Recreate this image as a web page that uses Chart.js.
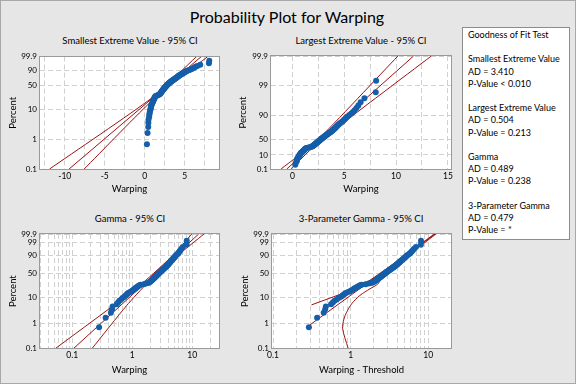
<!DOCTYPE html>
<html lang="en">
<head>
<meta charset="UTF-8">
<title>Probability Plot for Warping</title>
<script src="https://cdn.jsdelivr.net/npm/chart.js"></script>
<style>
  body { margin: 0; background: #fff; }
  #page { position: relative; width: 576px; height: 384px; background: #e6e6e6; overflow: hidden;
          font-family: Lato, "Noto Sans", sans-serif; color: #000; }
  #frame { position: absolute; left: 0; top: 0; width: 576px; height: 384px; box-sizing: border-box;
           border: 1px solid #a8a8a8; pointer-events: none; }
  #title { position: absolute; left: 0; top: 6px; width: 574px; text-align: center; font-size: 16px; line-height: 22px; }
  .ptitle { position: absolute; width: 200px; margin-left: -100px; text-align: center; font-size: 9.5px; line-height: 12px; }
  canvas { position: absolute; }
  #gof { position: absolute; left: 462px; top: 27px; width: 108px; height: 213px; box-sizing: border-box;
         background: #fff; border: 1px solid #8c8c8c; padding: 1px 0 0 5px; font-size: 9px; line-height: 12.2px; white-space: nowrap; }
</style>
</head>
<body>
<div id="page">
  <div id="title">Probability Plot for Warping</div>
  <div id="gof"></div>
  <div id="frame"></div>
</div>

<script>
    // Warping, sorted
    const warping = [
        0.28, 0.36, 0.44, 0.46, 0.47, 0.55, 0.58, 0.61, 0.65, 0.69,
        0.73, 0.77, 0.80, 0.83, 0.86, 0.92, 0.97, 1.01, 1.05, 1.09,
        1.12, 1.16, 1.20, 1.24, 1.28, 1.33, 1.37, 1.55, 1.70, 1.82,
        1.91, 1.96, 2.01, 2.05, 2.09, 2.13, 2.17, 2.21, 2.25, 2.29,
        2.33, 2.37, 2.41, 2.45, 2.49, 2.53, 2.57, 2.61, 2.65, 2.70,
        2.74, 2.78, 2.82, 2.87, 2.91, 2.96, 3.01, 3.06, 3.11, 3.16,
        3.21, 3.27, 3.33, 3.39, 3.45, 3.51, 3.57, 3.63, 3.69, 3.75,
        3.81, 3.87, 3.93, 3.99, 4.05, 4.11, 4.17, 4.23, 4.29, 4.35,
        4.43, 4.51, 4.60, 4.70, 4.80, 4.90, 5.00, 5.10, 5.21, 5.32,
        5.50, 5.68, 5.84, 6.00, 6.18, 6.36, 6.58, 6.95, 8.04, 8.08
    ];
    const threshold = -0.01;   // 3-parameter gamma threshold
    const gammaShape = 3.5;    // shape used for the gamma percent scale

    // fitted lines and 95% CI, as [percent, x]
    const sevFit   = [[0.1, -9.46], [99.9, 7.1]];
    const sevLeft  = [[0.1, -11.9], [23, 0.85], [99.9, 6.5]];
    const sevRight = [[0.1, -7.57], [23, 1.25], [99.9, 7.9]];

    const levFit   = [[0.1, -0.54], [99.9, 11.69]];
    const levLeft  = [[0.1, -1.09], [46.6, 2.35], [99.9, 10.18]];
    const levRight = [[0.1, -0.15], [46.6, 2.68], [99.9, 13.4]];

    const gamFit   = [[0.1, 0.106], [99.9, 12.8]];
    const gamLeft  = [[0.1, 0.053], [5, 0.48], [30, 1.50], [90, 4.8], [99.9, 9.8]];
    const gamRight = [[0.1, 0.215], [5, 0.80], [30, 1.80], [90, 5.8], [99.9, 15.7]];

    const g3Fit    = [[0.87, 0.30], [99.9, 12.3]];
    const g3Left   = [[5.4, 0.313], [16, 0.89], [30, 1.58], [99.9, 12.0]];
    const g3Right  = [[0.1, 0.93], [0.6, 0.79], [1.5, 0.82], [2.8, 0.89], [5.9, 1.03], [12, 1.32],
                      [20, 1.78], [28, 2.25], [50, 2.75], [99.9, 12.6]];

    // tick labels
    const sevPctTicks = [0.1, 1, 10, 50, 90, 99.9];
    const levPctTicks = [0.1, 10, 50, 90, 99, 99.9];
    const gamPctTicks = [0.1, 1, 10, 50, 90, 99, 99.9];
    const sevXLabels = [-10, -5, 0, 5];
    const levXLabels = [0, 5, 10, 15];
    const logXLabels = [0.1, 1, 10];

    // goodness of fit box
    const gofNames = ['Smallest Extreme Value', 'Largest Extreme Value', 'Gamma', '3-Parameter Gamma'];
    const gofAD = ['3.410', '0.504', '0.489', '0.479'];
    const gofP = ['< 0.010', '= 0.213', '= 0.238', '= *'];

    const FONT = 'Lato, "Noto Sans", sans-serif';
    const BLUE = '#155ea9';
    const RED = '#9b1212';
    const GRID = '#d0d0d0';
    Chart.defaults.font.family = FONT;
    Chart.defaults.color = '#000';

    let html = '<div>Goodness of Fit Test</div><div>&nbsp;</div>';
    gofNames.forEach((n, i) => {
        html += `<div>${n}</div><div>AD = ${gofAD[i]}</div><div>P-Value ${gofP[i]}</div>`;
        if (i < gofNames.length - 1) html += '<div>&nbsp;</div>';
    });
    document.getElementById('gof').innerHTML = html;

    // median rank plotting positions
    const N = warping.length;
    const percents = warping.map((v, i) => (i + 1 - 0.3) / (N + 0.4) * 100);

    function normInv(p) {
        const a = [-3.969683028665376e+01, 2.209460984245205e+02, -2.759285104469687e+02, 1.383577518672690e+02, -3.066479806614716e+01, 2.506628277459239e+00];
        const b = [-5.447609879822406e+01, 1.615858368580409e+02, -1.556989798598866e+02, 6.680131188771972e+01, -1.328068155288572e+01];
        const c = [-7.784894002430293e-03, -3.223964580411365e-01, -2.400758277161838e+00, -2.549671661902052e+00, 4.374664141464968e+00, 2.938163982698783e+00];
        const d = [7.784695709041462e-03, 3.224671290700398e-01, 2.445134137142996e+00, 3.754408661907416e+00];
        const pl = 0.02425;
        let q, r;
        if (p < pl) {
            q = Math.sqrt(-2 * Math.log(p));
            return (((((c[0]*q+c[1])*q+c[2])*q+c[3])*q+c[4])*q+c[5]) / ((((d[0]*q+d[1])*q+d[2])*q+d[3])*q+1);
        }
        if (p > 1 - pl) {
            q = Math.sqrt(-2 * Math.log(1 - p));
            return -(((((c[0]*q+c[1])*q+c[2])*q+c[3])*q+c[4])*q+c[5]) / ((((d[0]*q+d[1])*q+d[2])*q+d[3])*q+1);
        }
        q = p - 0.5; r = q * q;
        return (((((a[0]*r+a[1])*r+a[2])*r+a[3])*r+a[4])*r+a[5])*q / (((((b[0]*r+b[1])*r+b[2])*r+b[3])*r+b[4])*r+1);
    }

    // percent -> probability scale position
    const transforms = {
        sev: p => Math.log(-Math.log(1 - p / 100)),
        lev: p => -Math.log(-Math.log(p / 100)),
        gamma: p => 3 * Math.log(1 - 1 / (9 * gammaShape) + normInv(p / 100) / (3 * Math.sqrt(gammaShape)))
    };

    function logGrid(lo, hi) {
        const out = [];
        for (let e = -2; e <= 2; e++) {
            for (let m = 1; m <= 9; m++) {
                const v = +(m * Math.pow(10, e)).toPrecision(3);
                if (v >= lo && v <= hi) out.push(v);
            }
        }
        return out;
    }

    const framePlugin = {
        id: 'frame',
        beforeDraw(chart) {
            const {ctx, chartArea: a} = chart;
            ctx.save();
            ctx.fillStyle = '#fff';
            ctx.fillRect(a.left, a.top, a.right - a.left, a.bottom - a.top);
            ctx.restore();
        },
        afterDraw(chart) {
            const {ctx, chartArea: a} = chart;
            const l = Math.round(a.left), t = Math.round(a.top), r = Math.round(a.right), b = Math.round(a.bottom);
            ctx.save();
            ctx.strokeStyle = '#9a9a9a';
            ctx.lineWidth = 1;
            ctx.strokeRect(l - 0.5, t - 0.5, r - l + 1, b - t + 1);
            ctx.restore();
        }
    };

    const page = document.getElementById('page');
    const gofBox = document.getElementById('gof');

    function makePanel(o) {
        const t = document.createElement('div');
        t.className = 'ptitle';
        t.textContent = o.title;
        t.style.left = o.titleAt[0] + 'px';
        t.style.top = (o.titleAt[1] - 6) + 'px';
        page.insertBefore(t, gofBox);

        const cv = document.createElement('canvas');
        cv.width = o.box[2];
        cv.height = o.box[3];
        cv.style.left = o.box[0] + 'px';
        cv.style.top = o.box[1] + 'px';
        page.insertBefore(cv, gofBox);
        const T = transforms[o.kind];
        const toXY = pairs => pairs.map(([p, x]) => ({x: x, y: T(p)}));
        const line = (pairs, tension) => ({
            data: toXY(pairs), showLine: true, borderColor: RED, borderWidth: 1,
            pointRadius: 0, pointHoverRadius: 0, fill: false, tension: tension
        });

        new Chart(cv, {
            type: 'scatter',
            data: {
                datasets: [
                    {data: o.xs.map((x, i) => ({x: x, y: T(percents[i])})), backgroundColor: BLUE,
                     borderWidth: 0, pointRadius: 3, pointHoverRadius: 3},
                    line(o.fit, 0), line(o.left, o.tension), line(o.right, o.tension)
                ]
            },
            options: {
                responsive: false, animation: false, devicePixelRatio: 1,
                layout: {padding: {left: 0, right: o.padRight, top: o.padTop, bottom: 0}},
                plugins: {legend: {display: false}, tooltip: {enabled: false}},
                scales: {
                    x: {
                        type: o.logX ? 'logarithmic' : 'linear', min: o.xMin, max: o.xMax,
                        afterBuildTicks: s => { s.ticks = o.xGrid.map(v => ({value: v})); },
                        afterFit: s => { s.height = o.xAxisH; },
                        ticks: {autoSkip: false, maxRotation: 0, padding: 2, font: {size: 8.5},
                                callback: v => o.xLabels.includes(v) ? String(v) : ''},
                        grid: {color: GRID, drawTicks: false},
                        border: {display: false, dash: [5, 3]},
                        title: {display: true, text: o.xTitle, font: {size: 9.5, lineHeight: 1.2},
                                padding: {top: 0, bottom: o.xTitleBottom}}
                    },
                    y: {
                        type: 'linear', min: T(0.1), max: T(99.9),
                        afterBuildTicks: s => { s.ticks = o.yTicks.map(p => ({value: T(p)})); },
                        afterFit: s => { s.width = o.yAxisW; },
                        ticks: {autoSkip: false, padding: 3, font: {size: 8},
                                callback: (v, i) => String(o.yTicks[i])},
                        grid: {color: GRID, drawTicks: false},
                        border: {display: false, dash: [5, 3]},
                        title: {display: true, text: 'Percent', font: {size: 9.5, lineHeight: 1.2},
                                padding: {top: o.yTitleTop, bottom: 0}}
                    }
                }
            },
            plugins: [framePlugin]
        });
    }

    const linGrid = (a, b) => { const out = []; for (let v = a; v <= b + 1e-9; v += 2.5) out.push(v); return out; };

    makePanel({
        kind: 'sev', title: 'Smallest Extreme Value - 95% CI', titleAt: [130, 41], box: [0, 28, 232, 172],
        padTop: 28.5, padRight: 13, yAxisW: 40, xAxisH: 31, xTitleBottom: 5.8, yTitleTop: 6.8,
        xs: warping, fit: sevFit, left: sevLeft, right: sevRight, tension: 0.2,
        xMin: -13.1, xMax: 9.3, xGrid: linGrid(-12.5, 7.5), xLabels: sevXLabels, xTitle: 'Warping',
        yTicks: sevPctTicks
    });
    makePanel({
        kind: 'lev', title: 'Largest Extreme Value - 95% CI', titleAt: [361, 41], box: [232, 28, 232, 172],
        padTop: 28, padRight: 13, yAxisW: 39, xAxisH: 31, xTitleBottom: 5.3, yTitleTop: 5.6,
        xs: warping, fit: levFit, left: levLeft, right: levRight, tension: 0.2,
        xMin: -2.06, xMax: 15.3, xGrid: linGrid(0, 15), xLabels: levXLabels, xTitle: 'Warping',
        yTicks: levPctTicks
    });
    makePanel({
        kind: 'gamma', title: 'Gamma - 95% CI', titleAt: [130, 218.5], box: [0, 205, 232, 179],
        padTop: 29, padRight: 13, yAxisW: 40, xAxisH: 35.7, xTitleBottom: 8.3, yTitleTop: 7.3,
        xs: warping, fit: gamFit, left: gamLeft, right: gamRight, tension: 0.2, logX: true,
        xMin: 0.029, xMax: 27.9, xGrid: logGrid(0.029, 27.9), xLabels: logXLabels, xTitle: 'Warping',
        yTicks: gamPctTicks
    });
    makePanel({
        kind: 'gamma', title: '3-Parameter Gamma - 95% CI', titleAt: [361, 219], box: [232, 205, 232, 179],
        padTop: 29, padRight: 13, yAxisW: 40, xAxisH: 35.7, xTitleBottom: 8.3, yTitleTop: 7.3,
        xs: warping.map(v => v - threshold), fit: g3Fit, left: g3Left, right: g3Right, tension: 0.3, logX: true,
        xMin: 0.097, xMax: 19.7, xGrid: logGrid(0.097, 19.7), xLabels: logXLabels, xTitle: 'Warping - Threshold',
        yTicks: gamPctTicks
    });
</script>
</body>
</html>
